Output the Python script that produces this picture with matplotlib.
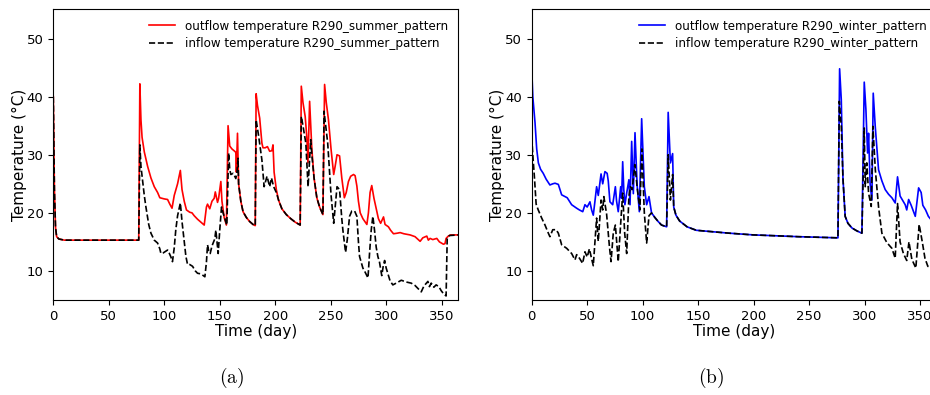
import numpy as np
import matplotlib
matplotlib.use("Agg")
import matplotlib.pyplot as plt

plt.rcParams['mathtext.fontset'] = 'cm'

# (a) summer pattern: outflow (red) and inflow (black dashed)
sum_out_day = [0, 1, 2, 3, 5, 10, 77, 78, 79, 80, 82, 85, 88, 91, 94, 96, 100, 103, 105, 107,
               109, 112, 114.5, 116, 118, 120, 123, 125, 127, 130, 133, 136, 138, 139, 141, 143,
               145, 146, 148, 149, 151, 152, 154, 156, 157.5, 159, 161, 163.5, 164.5, 165, 166,
               167, 169, 171, 174, 177, 180, 182, 182.8, 184, 186, 188, 189, 191, 193, 195, 197,
               198, 199, 201, 203, 206, 210, 214, 218, 222.5, 223.5, 225, 227, 228.5, 229.5, 231,
               232, 233, 235, 237.5, 240, 243, 244.5, 246, 248, 250.3, 252.7, 254, 255.7, 258,
               260, 262.3, 264, 266, 268, 270.6, 272, 273.6, 275, 276.6, 279, 282.6, 284, 285.5,
               287, 289, 291.6, 293, 295, 297.6, 299, 302, 304, 306.6, 310, 312.6, 316, 321.6,
               326, 330.6, 333, 336.6, 338, 339.6, 342, 345.6, 348, 351.6, 353, 354, 356, 358, 365]
sum_out = [40.0, 24.0, 17.5, 15.9, 15.5, 15.3, 15.3, 42.2, 36.0, 33.0, 30.5, 28.0, 26.0, 24.5,
           23.5, 22.6, 22.4, 22.3, 21.5, 20.8, 23.0, 25.0, 27.3, 24.0, 22.0, 20.5, 20.1, 20.0,
           19.5, 18.9, 18.4, 17.9, 21.0, 21.5, 20.7, 22.0, 22.5, 23.6, 21.8, 22.5, 25.4, 22.0,
           19.2, 17.9, 35.0, 31.5, 31.0, 30.6, 30.4, 27.0, 33.7, 25.0, 22.0, 20.2, 19.2, 18.5,
           18.0, 17.8, 40.5, 38.5, 36.3, 32.0, 31.2, 31.2, 31.4, 30.6, 30.7, 31.7, 27.0, 24.0,
           22.2, 20.7, 19.7, 19.0, 18.4, 17.9, 41.8, 39.0, 36.6, 33.0, 28.6, 39.2, 35.0, 31.0,
           26.0, 22.6, 21.0, 19.7, 42.1, 39.0, 36.0, 31.0, 26.6, 28.0, 30.0, 29.8, 26.0, 22.6,
           23.5, 25.4, 26.3, 26.6, 26.4, 24.6, 22.0, 20.0, 19.0, 18.0, 20.0, 23.5, 24.7, 22.5,
           20.2, 19.0, 18.2, 19.3, 18.0, 17.6, 17.0, 16.4, 16.5, 16.6, 16.4, 16.2, 15.9, 15.1,
           15.7, 16.0, 15.3, 15.6, 15.4, 15.6, 15.0, 14.6, 14.7, 15.6, 16.0, 16.2, 16.2]

sum_in_day = [0, 1, 2, 3, 5, 10, 77, 78, 79, 80.4, 82, 83.4, 86, 88, 91, 94, 96, 97, 99, 101.4,
              103, 104.4, 106, 107.4, 109, 110.4, 112, 114.5, 116, 118, 119.5, 121, 123, 125.5,
              128, 130, 133, 136.6, 138, 139, 140, 141.4, 143, 144.4, 145.5, 146.5, 147.5, 148.6,
              150, 151.6, 153, 154, 156.4, 158, 159, 160, 162, 163, 164.5, 165.5, 166.5, 167, 169,
              171, 174, 177, 180, 182, 182.8, 185, 188, 190, 192.6, 195, 196.6, 198.6, 201, 203,
              206, 210, 214, 218, 222.5, 223.5, 225, 227.6, 229.6, 232, 233, 235, 237.5, 240, 243,
              244, 245.5, 247.3, 250.3, 252.7, 254, 255.7, 258, 260, 261, 263.4, 265, 267, 269,
              271.6, 273.6, 275, 276, 279, 281, 283.6, 285, 286.5, 288, 289.5, 291, 292.5, 294,
              296, 297.5, 298.6, 300, 301.6, 303.5, 306, 310, 313.6, 318, 322.6, 326, 329, 331.6,
              334, 337.6, 339, 340.6, 343, 345, 347.5, 349.6, 352, 354, 355, 357, 365]
sum_in = [40.0, 24.0, 17.5, 15.9, 15.5, 15.3, 15.3, 31.7, 28.0, 25.7, 23.0, 21.1, 18.0, 16.5,
          15.3, 14.8, 13.8, 13.0, 13.1, 13.4, 13.6, 13.1, 12.4, 11.6, 14.0, 17.1, 19.5, 21.7,
          18.5, 15.1, 12.5, 11.1, 11.1, 10.8, 10.0, 9.6, 9.5, 9.0, 11.5, 14.5, 13.5, 13.0, 14.3,
          15.0, 15.5, 17.0, 15.0, 13.0, 17.0, 21.0, 20.0, 19.4, 17.9, 30.3, 27.5, 26.6, 26.8,
          26.5, 25.9, 27.0, 29.4, 25.0, 22.0, 20.2, 19.2, 18.5, 18.0, 17.8, 36.0, 33.3, 29.1,
          24.5, 26.3, 24.5, 26.0, 24.5, 23.5, 22.2, 20.7, 19.7, 19.0, 18.4, 17.9, 36.6, 35.0,
          32.0, 24.5, 32.6, 30.0, 26.0, 22.6, 21.0, 19.7, 37.5, 35.0, 32.0, 23.1, 18.2, 21.0,
          24.5, 24.0, 19.0, 17.0, 13.2, 15.5, 19.4, 20.3, 20.3, 19.4, 15.0, 12.5, 10.5, 9.8, 8.8,
          13.0, 17.0, 19.4, 17.0, 14.1, 12.5, 11.5, 9.2, 11.0, 11.8, 10.5, 9.5, 8.3, 7.6, 8.0,
          8.4, 8.1, 7.9, 7.5, 6.9, 6.4, 7.4, 8.2, 7.3, 7.9, 7.2, 7.6, 7.3, 6.6, 6.0, 5.7, 15.6,
          16.1, 16.2]

# (b) winter pattern: outflow (blue) and inflow (black dashed)
win_out_day = [0, 1, 3, 4.5, 6, 8, 10.4, 13, 16.4, 19, 21, 24, 27, 30, 32, 36, 40.5, 43, 46, 48,
               50, 52.5, 54, 55.5, 57, 58.5, 60, 62.5, 64, 66, 68, 69, 70.5, 73, 75.4, 76.5, 78,
               80.2, 81, 82, 83, 84, 85.6, 87.6, 88.6, 90.1, 91.6, 93.1, 95, 97, 99.1, 101.5,
               103.6, 105.7, 108, 111, 114, 117, 121.6, 123, 125, 127, 128, 130, 133.3, 140,
               148.3, 160, 178, 200, 214, 240, 276, 277.5, 279, 280.5, 282.5, 285, 288.6, 293,
               297.6, 299.7, 301.2, 302.7, 303.6, 305, 306.6, 307.8, 309.6, 312.6, 315.6, 318.6,
               321.6, 324.6, 327.6, 329.7, 332, 336.6, 338, 339.7, 342, 345.7, 348.7, 351, 352.5,
               355, 357.5, 360, 365]
win_out = [44.9, 40.0, 35.5, 31.0, 28.6, 27.5, 26.8, 25.8, 24.8, 25.0, 25.1, 24.9, 23.1, 22.8,
           22.6, 21.4, 20.8, 20.5, 20.2, 21.4, 21.0, 21.9, 20.5, 19.6, 22.0, 24.5, 23.0, 26.7,
           25.0, 27.1, 26.8, 25.5, 21.9, 21.4, 24.5, 22.0, 20.2, 24.5, 22.5, 28.8, 24.0, 21.4,
           23.4, 25.7, 21.4, 32.3, 23.3, 33.8, 24.8, 20.2, 36.2, 24.5, 21.4, 22.8, 20.0, 19.2,
           18.5, 17.9, 17.6, 37.3, 28.6, 30.2, 21.0, 19.6, 18.6, 17.6, 17.0, 16.8, 16.5, 16.2,
           16.1, 15.9, 15.7, 44.8, 39.5, 26.0, 19.4, 18.2, 17.4, 16.9, 16.5, 42.5, 37.8, 30.3,
           33.7, 25.0, 22.2, 40.6, 34.9, 27.4, 25.5, 24.0, 23.2, 22.6, 21.7, 26.2, 22.9, 21.4,
           20.5, 22.3, 21.3, 19.4, 24.3, 23.5, 21.3, 20.5, 19.4, 18.8, 18.5]

win_in_day = [0, 1, 2.5, 4, 5.9, 9, 12, 15, 16.4, 19, 22, 24, 27, 31.5, 36, 39, 40.5, 43, 45.9,
              48, 50, 52, 54, 55.5, 58.5, 60, 62.5, 64, 65, 67.5, 70, 71.5, 73.5, 75.4, 78, 80,
              82, 83.8, 85.6, 87.6, 89, 90.5, 93, 95, 97.5, 99.3, 101.5, 103.6, 105.7, 108, 111,
              114, 117, 121.6, 123, 125, 127, 128, 130, 133.3, 140, 148.3, 160, 178, 200, 214,
              240, 276, 277.2, 279, 280.5, 282.5, 285, 288.6, 293, 297.6, 299.7, 300.6, 302,
              303.6, 306, 307.5, 309.7, 312.6, 315.6, 320, 324.6, 327.6, 329.7, 332, 335, 338,
              340, 342.6, 346.2, 349.2, 352, 354.4, 357, 360, 365]
win_in = [33.0, 30.0, 26.0, 21.5, 20.5, 19.1, 17.9, 16.5, 15.9, 17.1, 17.1, 16.5, 14.5, 13.9,
          13.0, 11.9, 12.8, 12.2, 11.3, 13.3, 12.4, 13.8, 12.1, 10.9, 19.1, 15.1, 22.2, 20.5,
          22.8, 19.8, 14.3, 11.6, 16.5, 17.9, 11.6, 17.6, 23.4, 16.5, 13.0, 22.8, 24.5, 24.0,
          28.3, 24.5, 20.5, 31.0, 20.0, 14.8, 19.5, 20.0, 19.2, 18.5, 17.9, 17.6, 30.0, 22.2,
          26.6, 21.0, 19.6, 18.6, 17.6, 17.0, 16.8, 16.5, 16.2, 16.1, 15.9, 15.7, 39.2, 34.9,
          26.0, 19.4, 18.2, 17.4, 16.9, 16.5, 34.6, 24.5, 28.6, 23.4, 21.1, 34.9, 27.4, 21.0,
          16.5, 14.9, 13.9, 12.2, 21.6, 15.0, 13.0, 11.8, 15.0, 12.0, 10.5, 18.0, 15.0, 12.2,
          10.8, 10.5, 10.3]

fig = plt.figure(figsize=(9.30, 3.95), dpi=100)
ax1 = fig.add_axes([53.3/930, 95/395, 405/930, 290.5/395])
ax2 = fig.add_axes([531.7/930, 95/395, 405/930, 290.5/395])

ax1.plot(sum_out_day, sum_out, color="red", lw=1.2, label="outflow temperature R290_summer_pattern")
ax1.plot(sum_in_day, sum_in, "--", color="black", lw=1.2, label="inflow temperature R290_summer_pattern")
ax2.plot(win_out_day, win_out, color="blue", lw=1.2, label="outflow temperature R290_winter_pattern")
ax2.plot(win_in_day, win_in, "--", color="black", lw=1.2, label="inflow temperature R290_winter_pattern")

for ax in (ax1, ax2):
    ax.set_xlim(0, 365)
    ax.set_ylim(5, 55)
    ax.set_xticks([0, 50, 100, 150, 200, 250, 300, 350])
    ax.set_yticks([10, 20, 30, 40, 50])
    ax.tick_params(labelsize=9.5, length=3.5)
    ax.set_xlabel("Time (day)", fontsize=11, labelpad=1)
    ax.set_ylabel("Temperature (°C)", fontsize=11, labelpad=0)
    ax.legend(loc="upper right", frameon=False, fontsize=8.6, handlelength=2.2,
              borderaxespad=0.45, labelspacing=0.35)

fig.text(232/930, 1 - 378/395, r"$\mathrm{(a)}$", fontsize=14, ha="center", va="center")
fig.text(711/930, 1 - 378/395, r"$\mathrm{(b)}$", fontsize=14, ha="center", va="center")

fig.savefig("out.png", dpi=100)
